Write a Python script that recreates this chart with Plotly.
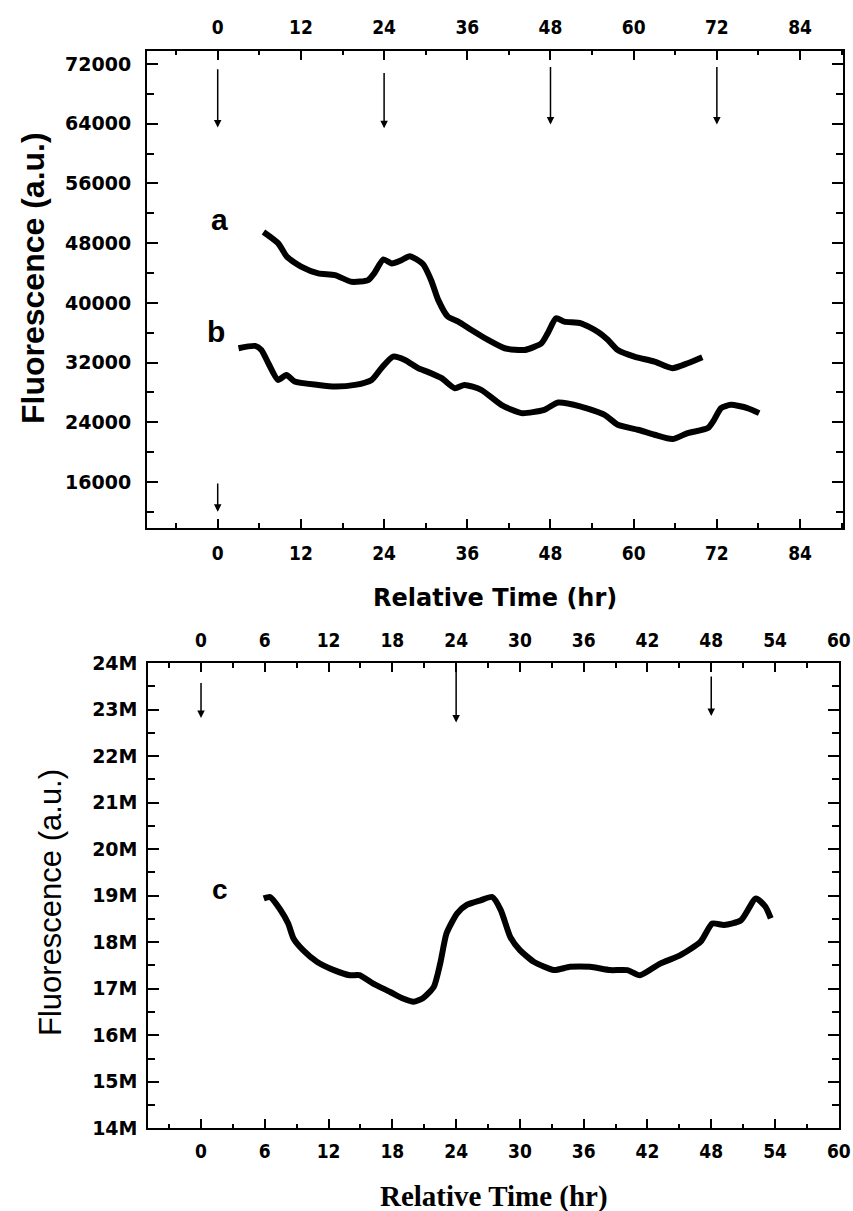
import plotly.graph_objects as go

# ---------------- data ----------------
# Top panel, curve a
a_time = [6.6, 8.7, 10.0, 12.1, 14.5, 16.9, 19.3, 21.7, 22.6, 23.9, 25.1, 26.5, 27.7,
          29.6, 30.8, 31.8, 33.2, 34.7, 36.6, 39.0, 41.4, 44.3, 46.7, 47.6, 48.8, 50.0,
          52.4, 54.8, 56.3, 57.7, 60.1, 63.0, 65.6, 67.8, 69.9]
a_fluor = [49500, 48000, 46160, 44830, 43950, 43720, 42820, 43050, 43990, 45820, 45280,
           45720, 46260, 45200, 43000, 40400, 38150, 37480, 36370, 35030, 33920, 33690,
           34590, 35930, 37930, 37480, 37260, 36140, 35030, 33690, 32800, 32130, 31250,
           31910, 32710]
# Top panel, curve b
b_time = [3.0, 5.4, 6.3, 7.3, 8.7, 9.9, 11.1, 14.5, 16.9, 19.8, 22.2, 23.6, 25.3, 27.0,
          28.9, 30.2, 32.3, 34.2, 35.6, 38.0, 40.9, 43.8, 47.1, 49.1, 52.4, 55.8, 57.7,
          60.6, 63.0, 65.6, 67.8, 70.7, 71.6, 72.6, 74.0, 76.4, 78.1]
b_fluor = [33920, 34230, 33690, 31910, 29680, 30350, 29460, 29010, 28790, 29010, 29680,
           31250, 32800, 32360, 31250, 30790, 29910, 28570, 29010, 28350, 26340, 25230,
           25670, 26650, 26110, 25000, 23670, 23000, 22330, 21750, 22560, 23220, 24330,
           25900, 26340, 25900, 25230]
# Bottom panel, curve c
c_time = [5.9, 6.5, 7.4, 8.2, 8.7, 9.6, 10.9, 12.5, 14.0, 14.9, 16.2, 17.8, 19.0, 20.0,
          20.9, 21.9, 22.5, 23.1, 24.1, 25.0, 26.3, 27.4, 28.2, 29.1, 30.0, 31.3, 33.2,
          34.7, 36.6, 38.5, 40.1, 41.3, 43.2, 45.1, 47.0, 48.1, 49.2, 50.8, 52.2, 53.1, 53.6]
c_fluor = [18.94e6, 18.97e6, 18.72e6, 18.40e6, 18.08e6, 17.83e6, 17.58e6, 17.40e6, 17.29e6,
           17.29e6, 17.11e6, 16.93e6, 16.79e6, 16.72e6, 16.80e6, 17.04e6, 17.54e6, 18.19e6,
           18.62e6, 18.80e6, 18.90e6, 18.97e6, 18.69e6, 18.11e6, 17.83e6, 17.58e6, 17.40e6,
           17.47e6, 17.47e6, 17.40e6, 17.40e6, 17.29e6, 17.54e6, 17.72e6, 18.01e6, 18.40e6,
           18.37e6, 18.47e6, 18.94e6, 18.76e6, 18.51e6]

# arrows (addition times): (time, tail value, tip value)
top_arrows = [(0, 71500, 63500), (24, 71000, 63400), (48, 71800, 63900), (72, 71800, 63900),
              (0, 16000, 12000)]
bottom_arrows = [(0, 23.6e6, 22.82e6), (24, 24.0e6, 22.72e6), (48, 23.74e6, 22.86e6)]

curve_labels_top = [("a", 0.2, 51100), ("b", -0.2, 36100)]
curve_labels_bottom = [("c", 1.8, 19.14e6)]

top_xrange = [-10.2, 90.15]
top_yrange = [9880, 73780]
bot_xrange = [-4.96, 60.0]
bot_yrange = [14e6, 24e6]

# ---------------- figure ----------------
W, H = 853, 1211
fig = go.Figure()

line_style = dict(color="black", width=6, shape="spline", smoothing=0.6)
fig.add_trace(go.Scatter(x=a_time, y=a_fluor, mode="lines", line=line_style,
                         xaxis="x", yaxis="y", showlegend=False, hoverinfo="skip"))
fig.add_trace(go.Scatter(x=b_time, y=b_fluor, mode="lines", line=line_style,
                         xaxis="x", yaxis="y", showlegend=False, hoverinfo="skip"))
fig.add_trace(go.Scatter(x=c_time, y=c_fluor, mode="lines", line=line_style,
                         xaxis="x2", yaxis="y2", showlegend=False, hoverinfo="skip"))
# dummy traces so the top label axes are drawn
fig.add_trace(go.Scatter(x=[None], y=[None], xaxis="x3", yaxis="y", showlegend=False))
fig.add_trace(go.Scatter(x=[None], y=[None], xaxis="x4", yaxis="y2", showlegend=False))

cond = "DejaVu Sans Condensed, DejaVu Sans"
wide = "DejaVu Sans"

def xaxis_main(domain, rng, dtick, mdtick, anchor, standoff):
    return dict(domain=domain, range=rng, anchor=anchor, tick0=0, dtick=dtick,
                showline=True, linecolor="black", linewidth=2, mirror="ticks",
                ticks="inside", ticklen=9, tickwidth=1.5, tickcolor="black",
                minor=dict(dtick=mdtick, tick0=0, ticks="inside", ticklen=4.5,
                           tickwidth=1.5, tickcolor="black"),
                showgrid=False, zeroline=False, automargin=False,
                tickfont=dict(family=cond, size=19, color="black", weight="bold"),
                ticklabelstandoff=standoff)

def xaxis_top(over, rng, dtick, anchor, standoff):
    return dict(overlaying=over, side="top", anchor=anchor, range=rng, tick0=0,
                dtick=dtick, showline=False, ticks="", showgrid=False,
                zeroline=False, automargin=False,
                tickfont=dict(family=cond, size=19, color="black", weight="bold"),
                ticklabelstandoff=standoff)

def yaxis_main(domain, rng, dtick, mdtick, anchor, fmt, standoff):
    return dict(domain=domain, range=rng, anchor=anchor, tick0=0, dtick=dtick,
                showline=True, linecolor="black", linewidth=2, mirror="ticks",
                ticks="inside", ticklen=11, tickwidth=1.5, tickcolor="black",
                minor=dict(dtick=mdtick, tick0=0, ticks="inside", ticklen=7,
                           tickwidth=1.5, tickcolor="black"),
                showgrid=False, zeroline=False, automargin=False, tickformat=fmt,
                tickfont=dict(family=wide, size=19, color="black", weight="bold"),
                ticklabelstandoff=standoff)

top_dom_x = [147 / W, 842.7 / W]
top_dom_y = [1 - 527.7 / H, 1 - 50.7 / H]
bot_dom_x = [148.3 / W, 838.8 / W]
bot_dom_y = [1 - 1128.3 / H, 1 - 663 / H]

fig.update_layout(
    width=W, height=H,
    margin=dict(l=0, r=0, t=0, b=0),
    paper_bgcolor="white", plot_bgcolor="white",
    xaxis=xaxis_main(top_dom_x, top_xrange, 12, 6, "y", 7),
    yaxis=yaxis_main(top_dom_y, top_yrange, 8000, 4000, "x", "d", 10),
    xaxis2=xaxis_main(bot_dom_x, bot_xrange, 6, 3, "y2", 5),
    yaxis2=yaxis_main(bot_dom_y, bot_yrange, 1e6, 0.5e6, "x2", "~s", 5),
    xaxis3=xaxis_top("x", top_xrange, 12, "y", 12),
    xaxis4=xaxis_top("x2", bot_xrange, 6, "y2", 11),
)

ann = []
for t, tail, tip in top_arrows:
    ann.append(dict(x=t, y=tip, ax=t, ay=tail, xref="x", yref="y", axref="x", ayref="y",
                    text="", showarrow=True, arrowhead=2, arrowsize=1, arrowwidth=1.5,
                    arrowcolor="black", standoff=0))
for t, tail, tip in bottom_arrows:
    ann.append(dict(x=t, y=tip, ax=t, ay=tail, xref="x2", yref="y2", axref="x2", ayref="y2",
                    text="", showarrow=True, arrowhead=2, arrowsize=1, arrowwidth=1.5,
                    arrowcolor="black", standoff=0))
for txt, t, v in curve_labels_top:
    ann.append(dict(x=t, y=v, xref="x", yref="y", text=txt, showarrow=False,
                    xanchor="center", yanchor="middle",
                    font=dict(family="Liberation Sans, Arial", size=30, color="black",
                              weight="bold")))
for txt, t, v in curve_labels_bottom:
    ann.append(dict(x=t, y=v, xref="x2", yref="y2", text=txt, showarrow=False,
                    xanchor="center", yanchor="middle",
                    font=dict(family="Liberation Sans, Arial", size=28, color="black",
                              weight="bold")))

# axis titles
ann.append(dict(x=33 / W, y=1 - 278 / H, xref="paper", yref="paper", textangle=-90,
                xanchor="center", yanchor="middle",
                text="Fluorescence (a.u.)", showarrow=False,
                font=dict(family="Liberation Sans, Arial", size=32, color="black",
                          weight="bold")))
ann.append(dict(x=495 / W, y=1 - 598 / H, xref="paper", yref="paper",
                xanchor="center", yanchor="middle",
                text="Relative Time (hr)", showarrow=False,
                font=dict(family="DejaVu Sans", size=24, color="black", weight="bold")))
ann.append(dict(x=50 / W, y=1 - 903 / H, xref="paper", yref="paper", textangle=-90,
                xanchor="center", yanchor="middle",
                text="Fluorescence (a.u.)", showarrow=False,
                font=dict(family="Liberation Sans, Arial", size=31, color="black")))
ann.append(dict(x=494 / W, y=1 - 1196 / H, xref="paper", yref="paper",
                xanchor="center", yanchor="middle",
                text="Relative Time (hr)", showarrow=False,
                font=dict(family="Liberation Serif, Times New Roman", size=29,
                          color="black", weight="bold")))
fig.update_layout(annotations=ann)

fig.write_html(
    "out.html",
    config={"displayModeBar": False},
    post_script="document.body.style.margin='0px';"
                "document.documentElement.style.overflow='hidden';",
)
